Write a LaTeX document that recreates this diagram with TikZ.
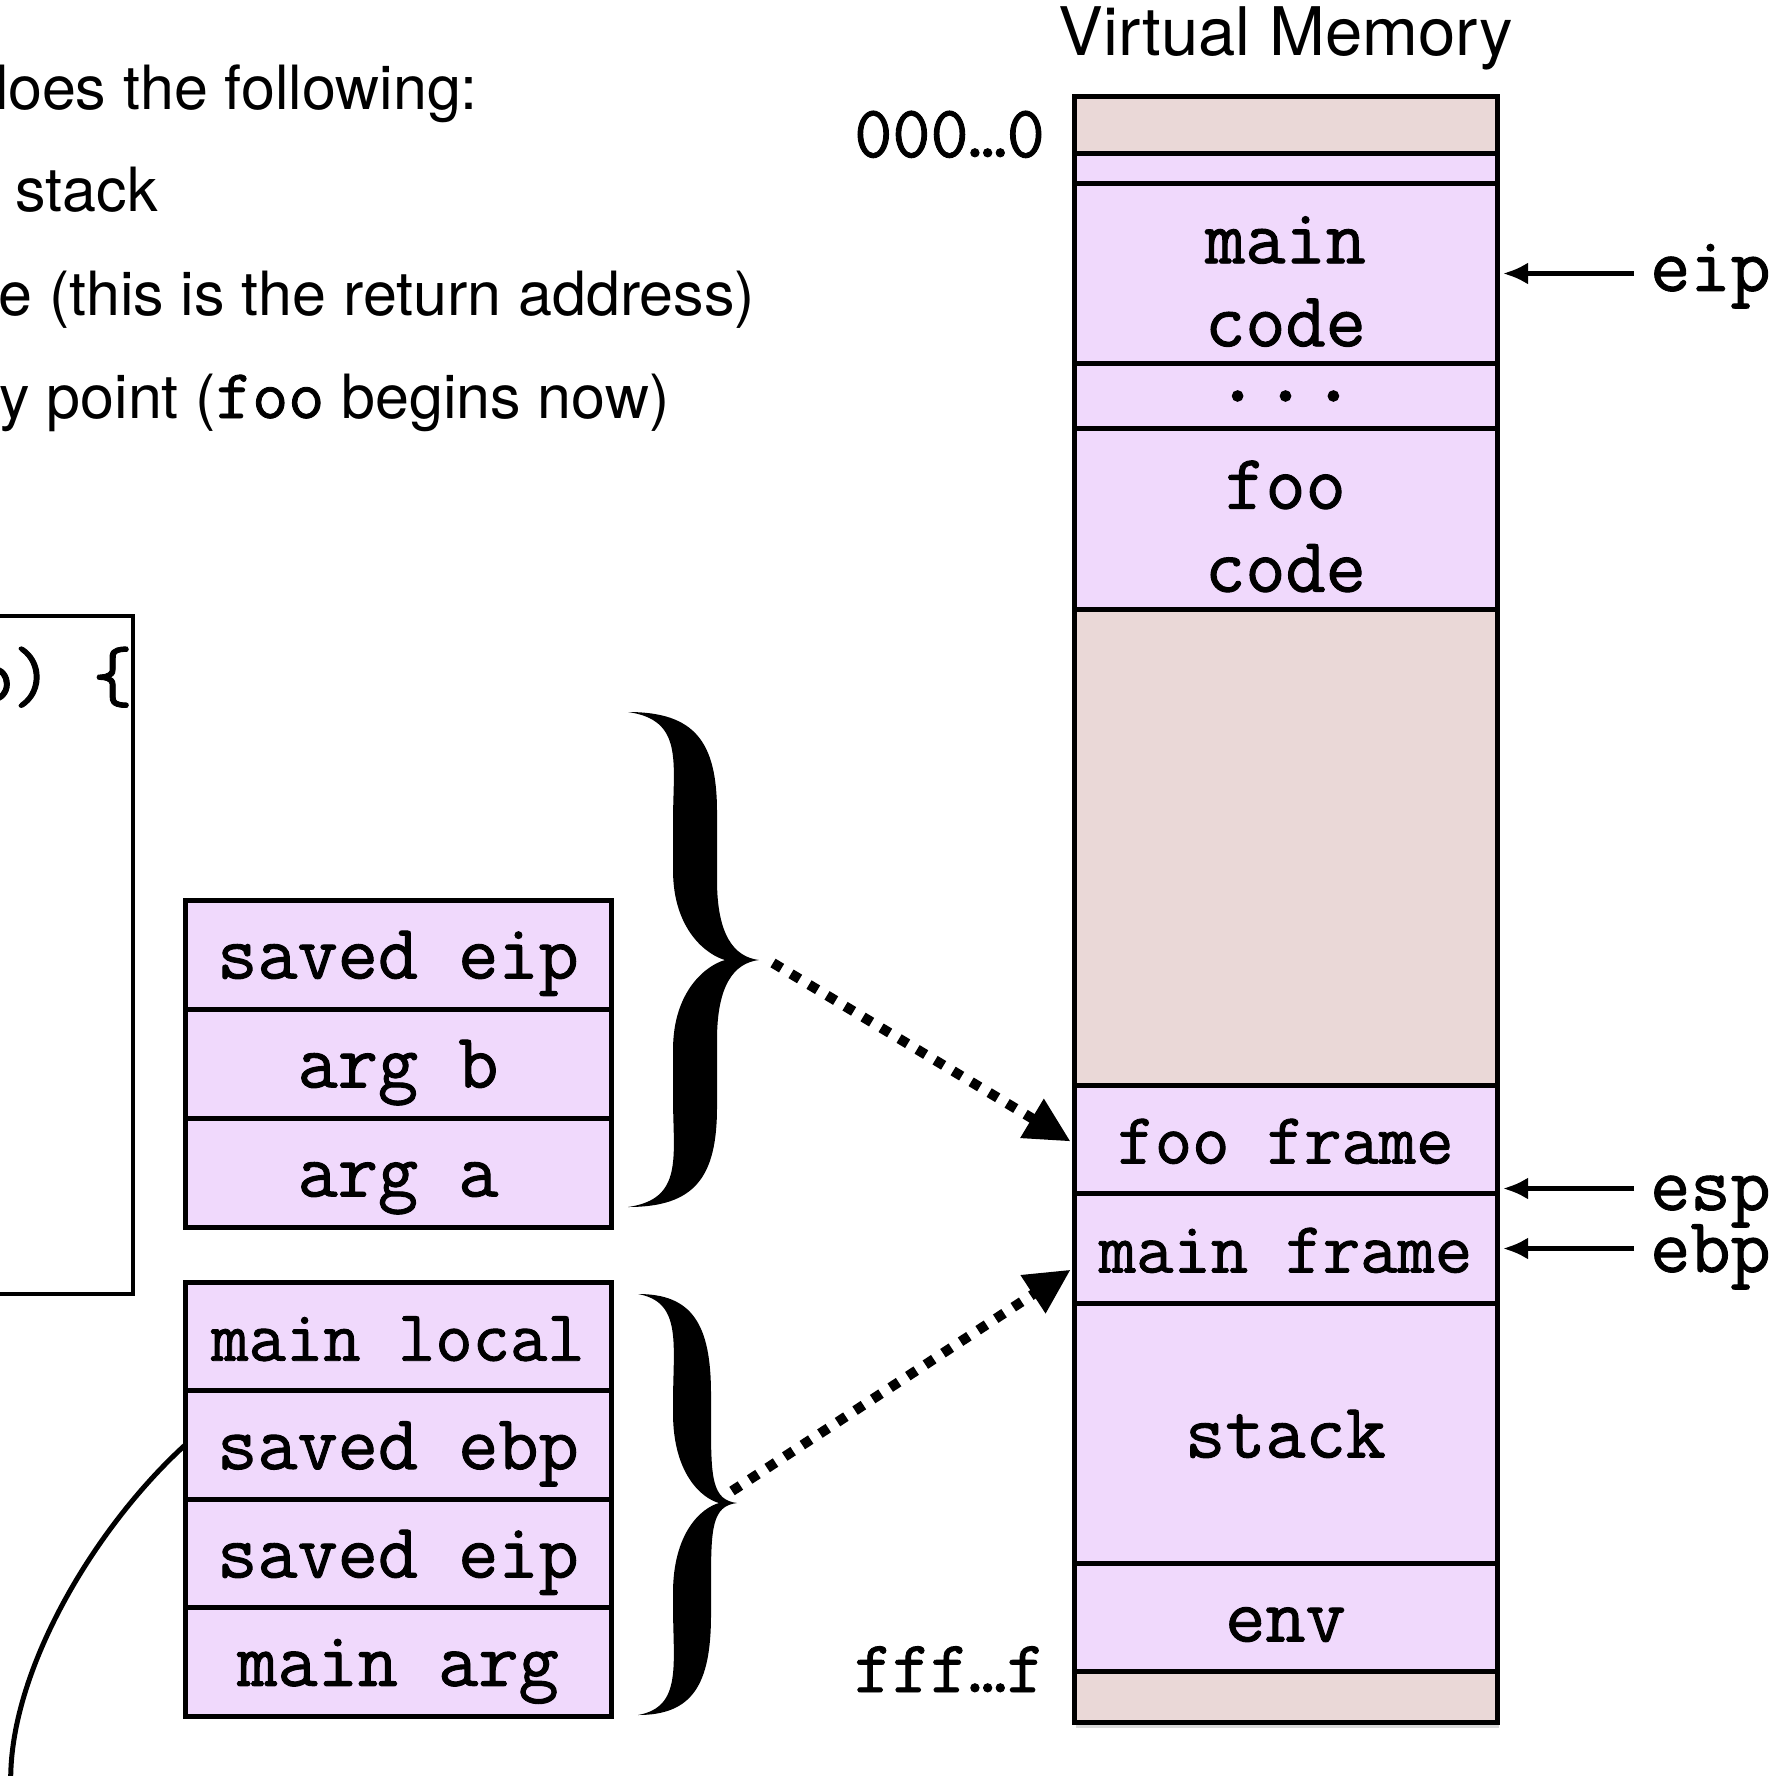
\documentclass[tikz,border=0pt]{standalone}
\usepackage{fontspec}
\setsansfont{TeX Gyre Heros}
\newfontfamily\typew{Latin Modern Mono}[FakeBold=1.2]
\usetikzlibrary{arrows.meta,positioning,shadows,calc}
\definecolor{lilac}{RGB}{240,217,252}
\definecolor{dusk}{RGB}{234,216,215}
\newcommand{\mono}[1]{\fontsize{#1}{83}\selectfont\typew}
\newcommand{\heros}[1]{\fontsize{#1}{#1}\selectfont\sffamily}
\newcommand{\fatbrace}[7]{%
  \fill (#1,#4)
    .. controls (#2,#4) and ({#2+#7},{#4+30}) .. ({#2+#7},{#4+100})
    -- ({#2+#7},{#5-80})
    .. controls ({#2+#7},{#5-25}) and ({#3-25},{#5-3}) .. (#3,#5)
    .. controls ({#3-25},{#5+3}) and ({#2+#7},{#5+25}) .. ({#2+#7},{#5+80})
    -- ({#2+#7},{#6-100})
    .. controls ({#2+#7},{#6-30}) and (#2,#6) .. (#1,#6)
    .. controls ({#2-0.5*#7},{#6-8}) and ({#2-#7},{#6-50}) .. ({#2-#7},{#6-110})
    -- ({#2-#7},{#5+90})
    .. controls ({#2-#7},{#5+30}) and ({#2+#7-10},{#5+5}) .. ({#2+#7+8},#5)
    .. controls ({#2+#7-10},{#5-5}) and ({#2-#7},{#5-30}) .. ({#2-#7},{#5-90})
    -- ({#2-#7},{#4+110})
    .. controls ({#2-#7},{#4+50}) and ({#2-0.5*#7},{#4+8}) .. (#1,#4) -- cycle;}

\begin{document}
\begin{tikzpicture}[x=1pt,y=-1pt,
    vmcell/.style={draw,line width=5pt,fill=lilac,minimum width=423pt,inner sep=0pt,outer sep=0pt,font=\mono{78},align=center},
    vmgap/.style={vmcell,fill=dusk},
    tall/.style={text height=48pt,text depth=0pt},
    stkcell/.style={draw,line width=5pt,fill=lilac,minimum width=426pt,minimum height=109pt,inner sep=0pt,outer sep=0pt,tall},
    reg/.style={font=\mono{78},inner sep=0pt,anchor=base west},
    body/.style={font=\heros{61},inner sep=0pt,anchor=base west},
    ptr/.style={line width=4.5pt,-{Latex[length=25pt,width=22pt]},shorten <=16pt,shorten >=6pt},
    dotarrow/.style={line width=10pt,dash pattern=on 10pt off 11pt,-{Triangle[length=45pt,width=43pt]},shorten >=4pt}]
    \useasboundingbox (0,0) rectangle (1776,1776);

    \node[body] (l1) at (-26,110) {does the following:};
    \node[body] (l2) at (15,212) {stack};
    \node[body] (l3) at (-2,316) {e (this is the return address)};
    \node[body] (l4) at (-1,418) {y point ({\mono{70}foo} begins now)};

    \draw[line width=4.5pt] (-20,616) rectangle (133,1294);
    \node[reg] (codeline) at (-28,701) {b) \{};

    \node[font=\heros{67},inner sep=0pt,anchor=base] (title) at (1286,56) {Virtual Memory};
    \path[fill=white,drop shadow={shadow xshift=2pt,shadow yshift=-6pt,opacity=.3}] (1074,97) rectangle (1497,1722);
    \node[vmgap,minimum height=57pt] (topgap) at (1285.5,125.5) {};
    \node[vmcell,minimum height=29.5pt,below=0pt of topgap] (txt) {};
    \node[vmcell,minimum height=180pt,below=0pt of txt] (maincode) {\rule{0pt}{63pt}main\\code};
    \node[vmcell,minimum height=65pt,below=0pt of maincode,font=\mono{93}] (dots) {...};
    \node[vmcell,minimum height=181pt,below=0pt of dots] (foocode) {\rule{0pt}{63pt}foo\\code};
    \node[vmgap,minimum height=476pt,below=0pt of foocode] (free) {};
    \node[vmcell,tall,minimum height=108pt,below=0pt of free,font=\mono{72.5}] (fooframe) {foo frame};
    \node[vmcell,tall,minimum height=110pt,below=0pt of fooframe,font=\mono{72.5}] (mainframe) {main frame};
    \node[vmcell,tall,minimum height=260pt,below=0pt of mainframe] (stack) {stack};
    \node[vmcell,tall,minimum height=108pt,below=0pt of stack] (env) {env};
    \node[vmgap,minimum height=51pt,below=0pt of env] (botgap) {};

    \node[reg,anchor=base east,font=\mono{74}] (lowaddr) at (1045,157) {000…0};
    \node[reg,anchor=base east,font=\mono{74}] (highaddr) at (1045,1692) {fff…f};

    \node[reg] (eip) at (1650,291) {eip};
    \node[reg] (esp) at (1650,1210) {esp};
    \node[reg] (ebp) at (1650,1272) {ebp};
    \coordinate (espat) at ([yshift=5pt]fooframe.south east);
    \draw[ptr] (eip.west |- maincode.east) -- (maincode.east);
    \draw[ptr] (esp.west |- espat) -- (espat);
    \draw[ptr] (ebp.west |- mainframe.east) -- (mainframe.east);

    \foreach \n/\t/\s/\y in {feip/saved eip/78/954.5, fargb/arg b/78/1063.5, farga/arg a/78/1172.5,
      mlocal/main local/72.5/1336.7, sebp/saved ebp/78/1445.1, seip/saved eip/78/1553.5, marg/main arg/78/1661.9}
      \node[stkcell,font=\mono{\s}] (\n) at (398,\y) {\t};

    \fatbrace{628}{695}{759}{712}{960}{1207}{22}
    \fatbrace{638}{692}{737}{1294}{1503}{1715}{19}

    \coordinate (upfrom) at (773,963);
    \coordinate (lowfrom) at (732,1491);
    \draw[dotarrow] (upfrom) -- ([yshift=-4pt]fooframe.west);
    \draw[dotarrow] (lowfrom) -- ([yshift=-19pt]mainframe.west);

    \draw[line width=5pt] (sebp.west) .. controls (90,1532) and (5,1680) .. (11,1790);
\end{tikzpicture}
\end{document}
